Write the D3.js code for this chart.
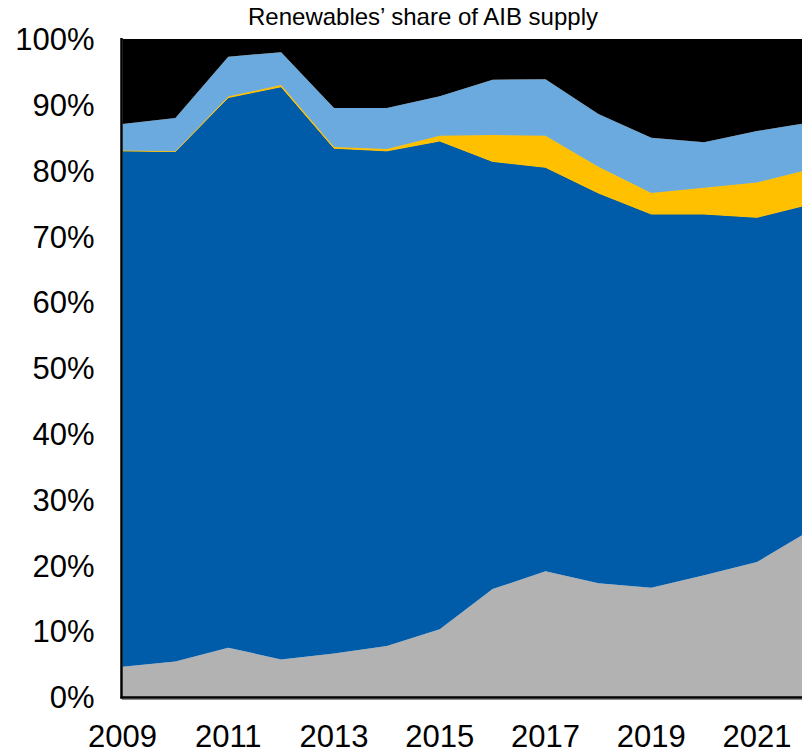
<!DOCTYPE html>
<html><head><meta charset="utf-8">
<script src="https://cdn.jsdelivr.net/npm/d3@7/dist/d3.min.js"></script>
<style>body{margin:0;background:#fff}svg{display:block}</style>
</head><body><svg id="c" width="802" height="750"></svg>
<script>
const years = [2009,2010,2011,2012,2013,2014,2015,2016,2017,2018,2019,2020,2021,2022];
const grayLayer  = [4.6,5.4,7.5,5.7,6.6,7.75,10.3,16.4,19.1,17.3,16.6,18.5,20.5,25.3];
const darkBlue   = [78.4,77.5,83.6,87.05,76.8,75.25,74.2,65.0,61.4,59.3,56.8,54.9,52.4,49.6];
const yellow     = [0.05,0.05,0.15,0.25,0.2,0.3,0.8,4.0,4.8,4.0,3.2,4.0,5.3,5.3];
const lightBlue  = [4.05,5.05,6.05,5.0,5.9,6.2,6.0,8.4,8.6,8.0,8.4,6.9,7.8,7.1];
const blackTop   = [12.9,12.0,2.7,2.0,10.5,10.5,8.7,6.2,6.1,11.4,15.0,15.7,14.0,12.7];
const xTicks = [2009,2011,2013,2015,2017,2019,2021];
const yTicks = [0,10,20,30,40,50,60,70,80,90,100];
const title = "Renewables\u2019 share of AIB supply";

const keys = ["gray","darkBlue","yellow","lightBlue","black"];
const colors = {gray:"#b2b2b2",darkBlue:"#005ca8",yellow:"#ffc000",lightBlue:"#6aaade",black:"#000000"};
const table = years.map((y,i)=>({year:y,gray:grayLayer[i],darkBlue:darkBlue[i],yellow:yellow[i],lightBlue:lightBlue[i],black:blackTop[i]}));

const svg = d3.select("#c");
const x = d3.scaleLinear().domain([2009,2021]).range([122.5,757]);
const y = d3.scaleLinear().domain([0,100]).range([697,39]);

svg.append("clipPath").attr("id","plot").append("rect")
  .attr("x",121).attr("y",38).attr("width",802-121).attr("height",660);
const g = svg.append("g").attr("clip-path","url(#plot)");
const stack = d3.stack().keys(keys)(table);
const area = d3.area().x(d=>x(d.data.year)).y0(d=>y(d[0])).y1(d=>y(d[1]));
g.selectAll("path.layer").data(stack).join("path")
  .attr("class","layer").attr("d",area).attr("fill",d=>colors[d.key])
  .attr("stroke",d=>d.key==="yellow"?colors.yellow:"none").attr("stroke-width",d=>d.key==="yellow"?1:0);

// axes
svg.append("line").attr("x1",121.5).attr("x2",121.5).attr("y1",38).attr("y2",698.5).attr("stroke","#000").attr("stroke-width",2.5);
svg.append("line").attr("x1",120.5).attr("x2",802).attr("y1",697.5).attr("y2",697.5).attr("stroke","#000").attr("stroke-width",2.5);
svg.append("line").attr("x1",122).attr("x2",802).attr("y1",699.5).attr("y2",699.5).attr("stroke","#8a8a8a").attr("stroke-width",1);

const font = "'Liberation Sans', Arial, sans-serif";
svg.selectAll("text.yt").data(yTicks).join("text").attr("class","yt")
  .attr("x",94.5).attr("y",d=>y(d)).attr("dy","0.36em").attr("text-anchor","end")
  .attr("font-family",font).attr("font-size",31).attr("fill","#000").text(d=>d+"%");
svg.selectAll("text.xt").data(xTicks).join("text").attr("class","xt")
  .attr("x",d=>x(d)).attr("y",747).attr("text-anchor","middle")
  .attr("font-family",font).attr("font-size",31).attr("fill","#000").text(d=>d);
svg.append("text").attr("x",423).attr("y",25).attr("text-anchor","middle")
  .attr("font-family",font).attr("font-size",24).attr("fill","#000").text(title);
</script></body></html>
